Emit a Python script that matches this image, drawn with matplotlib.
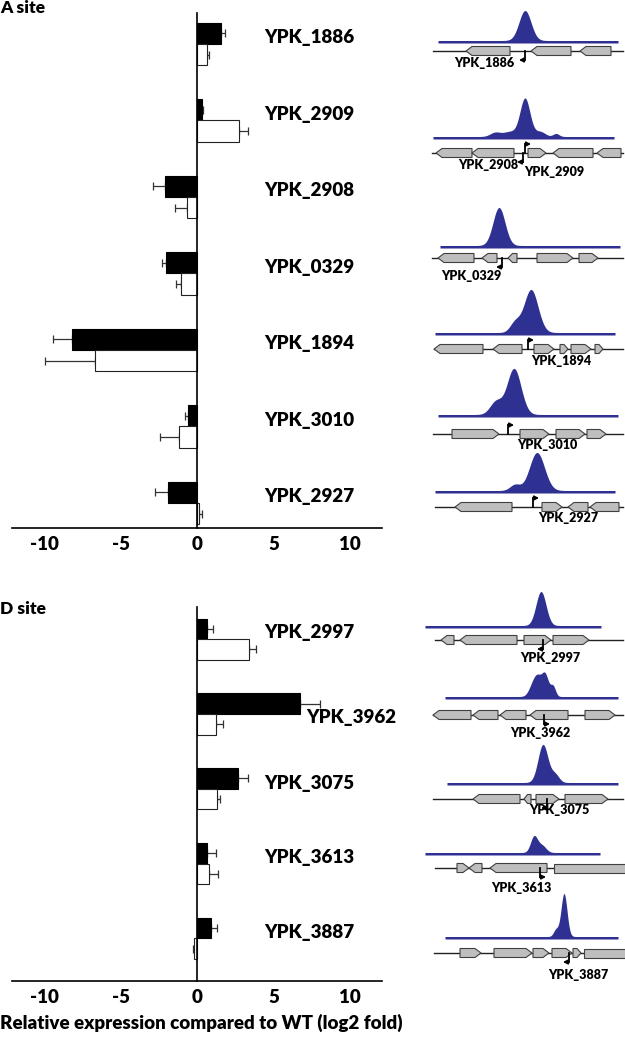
import numpy as np
import matplotlib
matplotlib.use("Agg")
import matplotlib.pyplot as plt
from matplotlib.patches import Polygon

plt.rcParams['font.family'] = ['Lato', 'DejaVu Sans']
plt.rcParams['font.weight'] = 'heavy'
WT = 'heavy'

# ---- bar data (log2 fold vs WT) ----
a_genes = ['YPK_1886', 'YPK_2909', 'YPK_2908', 'YPK_0329', 'YPK_1894', 'YPK_3010', 'YPK_2927']
a_black = [1.55, 0.3, -2.1, -2.05, -8.25, -0.6, -1.95]
a_black_err = [0.25, 0.1, 0.8, 0.25, 1.2, 0.2, 0.85]
a_white = [0.6, 2.75, -0.7, -1.05, -6.7, -1.2, 0.1]
a_white_err = [0.15, 0.55, 0.75, 0.35, 3.3, 1.25, 0.18]

d_genes = ['YPK_2997', 'YPK_3962', 'YPK_3075', 'YPK_3613', 'YPK_3887']
d_black = [0.65, 6.75, 2.65, 0.65, 0.9]
d_black_err = [0.4, 1.3, 0.65, 0.55, 0.4]
d_white = [3.4, 1.25, 1.3, 0.75, -0.2]
d_white_err = [0.45, 0.45, 0.2, 0.6, 0.1]

# ---- genome track data (local x units, 0..215) ----
track_names = ['YPK_1886', 'YPK_2909', 'YPK_0329', 'YPK_1894', 'YPK_3010', 'YPK_2927',
               'YPK_2997', 'YPK_3962', 'YPK_3075', 'YPK_3613', 'YPK_3887']
track_line_y = [51, 153, 258, 349, 434, 507, 640, 715, 799, 868, 953]
track_line_x = [(23, 213), (22, 213), (22, 213), (24, 213), (23, 213), (25, 213),
                (25, 213), (23, 213), (23, 213), (25, 215), (24, 215)]
signal_range = [(28, 208), (23, 204), (30, 210), (25, 205), (28, 208), (25, 205),
                (15, 191), (35, 208), (37, 208), (15, 190), (35, 208)]
signal_base = [8, 14, 10, 14, 17, 14, 12, 16, 14, 13, 14]
# peaks: (center, height, half width)
peaks = [
    [(115, 30, 6)],
    [(115, 38, 5), (85, 4, 5), (100, 5, 7), (130, 5, 5), (146, 3, 3)],
    [(89, 38, 6)],
    [(121, 43, 7), (105, 10, 5)],
    [(104, 46, 7), (86, 13, 6)],
    [(127, 38, 7.5), (105, 6, 5)],
    [(131, 34, 5)],
    [(135, 22, 3.5), (123, 12, 4), (128, 14, 3.5), (143, 10, 2.5)],
    [(133, 38, 5), (145, 8, 4)],
    [(124, 16, 3.5), (132, 7, 4)],
    [(154, 43, 3), (146, 7, 2.5)],
]
# genes: (start, end, strand)
genes = [
    [(56, 100, '-'), (121, 161, '-'), (170, 201, '-')],
    [(26, 62, '-'), (62, 104, '-'), (118, 136, '+'), (143, 183, '-'), (187, 211, '-')],
    [(28, 64, '-'), (72, 87, '-'), (98, 107, '-'), (127, 163, '+'), (169, 188, '+')],
    [(24, 73, '-'), (83, 112, '-'), (124, 144, '+'), (150, 158, '+'), (161, 181, '+'), (185, 193, '+')],
    [(42, 89, '+'), (110, 139, '+'), (146, 175, '+'), (177, 196, '+')],
    [(45, 102, '-'), (132, 152, '+'), (158, 178, '-'), (180, 209, '-')],
    [(31, 44, '-'), (50, 107, '-'), (114, 141, '+'), (143, 179, '+')],
    [(23, 61, '-'), (63, 88, '-'), (90, 116, '-'), (120, 158, '-'), (175, 205, '+')],
    [(63, 110, '-'), (114, 121, '-'), (126, 149, '+'), (155, 198, '+')],
    [(47, 59, '+'), (59, 72, '-'), (80, 137, '-'), (144, 216, 'box')],
    [(50, 71, '+'), (84, 122, '+'), (123, 139, '+'), (142, 162, '+'), (163, 171, '+'), (174, 216, 'box')],
]
# transcription start arrows: list of (x, vertical, direction)
tss = [
    [(115, 'down', 'left')],
    [(115, 'up', 'right'), (113, 'down', 'left')],
    [(92, 'down', 'left')],
    [(118, 'up', 'right')],
    [(98, 'up', 'right')],
    [(123, 'up', 'right')],
    [(133, 'down', 'left')],
    [(134, 'down', 'right')],
    [(137, 'down', 'left')],
    [(130, 'down', 'right')],
    [(159, 'down', 'left')],
]
# labels under the gene line: (text, center x, offset below line)
track_labels = [
    [('YPK_1886', 74, 12)],
    [('YPK_2908', 78, 12), ('YPK_2909', 144, 19)],
    [('YPK_0329', 61, 18)],
    [('YPK_1894', 151, 12)],
    [('YPK_3010', 137, 11)],
    [('YPK_2927', 158, 11)],
    [('YPK_2997', 140, 18)],
    [('YPK_3962', 130, 18)],
    [('YPK_3075', 149, 11)],
    [('YPK_3613', 111, 20)],
    [('YPK_3887', 168, 22)],
]

W, H = 625, 1040
fig = plt.figure(figsize=(W / 100, H / 100), dpi=100)

BLUE = '#2E3192'
XMIN, XMAX = -12.15, 12.1


def bar_panel(rect, names, black, black_err, white, white_err, ylim, label_x, label_dy):
    ax = fig.add_axes(rect)
    pos = np.arange(len(names))
    h = 0.275
    yb = pos - h / 2
    yw = pos + h / 2
    black = np.array(black)
    white = np.array(white)
    be = np.array(black_err)
    we = np.array(white_err)
    ax.barh(yb, black, height=h, color='black', edgecolor='black', linewidth=0.8, zorder=2)
    ax.barh(yw, white, height=h, color='white', edgecolor='#222222', linewidth=0.8, zorder=2)
    b_xerr = [np.where(black < 0, be, 0), np.where(black >= 0, be, 0)]
    w_xerr = [np.where(white < 0, we, 0), np.where(white >= 0, we, 0)]
    ax.errorbar(black, yb, xerr=b_xerr, fmt='none', ecolor='#333333', elinewidth=0.9,
                capsize=3, capthick=0.9, zorder=1)
    ax.errorbar(white, yw, xerr=w_xerr, fmt='none', ecolor='#333333', elinewidth=0.9,
                capsize=3, capthick=0.9, zorder=1)
    for i, name in enumerate(names):
        ax.text(label_x[i], pos[i] + label_dy[i], name, fontsize=13.5, fontweight=WT,
                va='center', ha='left')
    ax.set_xlim(XMIN, XMAX)
    ax.set_ylim(*ylim)
    ax.set_xticks([-10, -5, 0, 5, 10])
    ax.set_xticklabels(['-10', '-5', '0', '5', '10'], fontsize=13.5, fontweight=WT)
    ax.tick_params(axis='x', length=0, pad=6)
    ax.set_yticks([])
    ax.spines['top'].set_visible(False)
    ax.spines['right'].set_visible(False)
    ax.spines['left'].set_position(('data', 0))
    ax.spines['left'].set_linewidth(1.2)
    ax.spines['bottom'].set_linewidth(1.2)
    ax.set_facecolor('none')
    return ax


ax_a = bar_panel([12 / W, 1 - 528 / H, 370 / W, 515 / H], a_genes, a_black, a_black_err,
                 a_white, a_white_err, (6.327, -0.405),
                 [4.4] * 7, [-0.08] * 7)
ax_d = bar_panel([12 / W, 1 - 981 / H, 370 / W, 374 / H], d_genes, d_black, d_black_err,
                 d_white, d_white_err, (4.57, -0.43),
                 [4.4, 7.1, 4.4, 4.4, 4.4], [-0.09, 0.05, -0.07, -0.08, -0.08])

fig.text(0, 1 - 8 / H, 'A site', fontsize=12.5, fontweight=WT, va='center', ha='left')
fig.text(0, 1 - 609 / H, 'D site', fontsize=12.5, fontweight=WT, va='center', ha='left')
fig.text(0, 1 - 1023 / H, 'Relative expression compared to WT (log2 fold)', fontsize=13.5,
         fontweight=WT, va='center', ha='left')

# ---- genome tracks ----
ax_t = fig.add_axes([410 / W, 0, (W - 410) / W, 1])
ax_t.set_xlim(0, W - 410)
ax_t.set_ylim(H, 0)
ax_t.axis('off')

GH = 4.5  # half height of gene arrow
for k in range(len(track_names)):
    y0 = track_line_y[k]
    # signal
    s0, s1 = signal_range[k]
    xs = np.linspace(s0, s1, 400)
    prof = np.full_like(xs, 2.5)
    for c, hgt, wd in peaks[k]:
        prof = prof + hgt * np.exp(-0.5 * ((xs - c) / wd) ** 2)
    base = y0 - signal_base[k]
    ax_t.fill_between(xs, base, base - prof, color=BLUE, linewidth=0)
    # line
    lx0, lx1 = track_line_x[k]
    ax_t.plot([lx0, lx1], [y0, y0], color='#222222', lw=1.0, zorder=1)
    # genes
    for s, e, strand in genes[k]:
        tip = min(6, (e - s) * 0.5)
        if strand == '+':
            pts = [(s, y0 - GH), (e - tip, y0 - GH), (e, y0), (e - tip, y0 + GH), (s, y0 + GH)]
        elif strand == '-':
            pts = [(e, y0 - GH), (s + tip, y0 - GH), (s, y0), (s + tip, y0 + GH), (e, y0 + GH)]
        else:
            pts = [(s, y0 - GH), (e, y0 - GH), (e, y0 + GH), (s, y0 + GH)]
        ax_t.add_patch(Polygon(pts, closed=True, facecolor='#BEBEBE', edgecolor='#404040',
                               linewidth=0.8, zorder=2))
    # TSS arrows
    for x, vert, direc in tss[k]:
        yend = y0 - 9 if vert == 'up' else y0 + 9
        ax_t.plot([x, x], [y0, yend], color='black', lw=1.3, zorder=3,
                  solid_capstyle='projecting')
        dx = 6 if direc == 'right' else -6
        ax_t.annotate('', xy=(x + dx, yend), xytext=(x, yend),
                      arrowprops=dict(arrowstyle='-|>,head_length=0.25,head_width=0.13',
                                      color='black', lw=1.2, shrinkA=0, shrinkB=0), zorder=3)
    for txt, cx, dy in track_labels[k]:
        ax_t.text(cx, y0 + dy, txt, fontsize=9, fontweight=WT, ha='center', va='center')

fig.savefig('out.png', dpi=100)
